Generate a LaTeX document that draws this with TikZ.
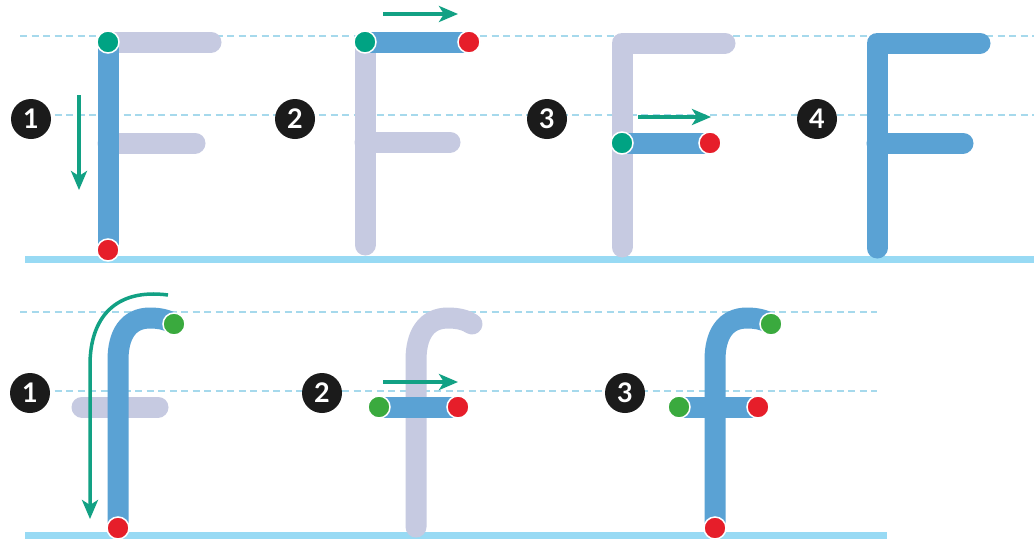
\documentclass[tikz,border=0pt]{standalone}
\usepackage{fontspec}
\setmainfont{Lato}
\usetikzlibrary{arrows.meta}
\definecolor{inkblue}{HTML}{5AA2D4}
\definecolor{ghost}{HTML}{C6CAE1}
\definecolor{guide}{HTML}{A6D9EC}
\definecolor{baseblue}{HTML}{98DAF4}
\definecolor{arrowteal}{HTML}{12A184}
\definecolor{startteal}{HTML}{00A383}
\definecolor{startgreen}{HTML}{3AAA3E}
\definecolor{endred}{HTML}{E61E2A}
\definecolor{numblack}{HTML}{1B1B1B}
\tikzset{
  guideline/.style={guide, line width=1.5pt, dash pattern=on 7pt off 4.5pt},
  baseline/.style={baseblue, line width=7pt},
  ghoststroke/.style={ghost, line width=21pt, line cap=round, line join=round},
  inkstroke/.style={inkblue, line width=21pt, line cap=round, line join=round},
  dotbase/.style={circle, draw=white, line width=1.5pt, minimum size=22pt, inner sep=0pt},
  startdotA/.style={dotbase, fill=startteal},
  startdotB/.style={dotbase, fill=startgreen},
  enddot/.style={dotbase, fill=endred},
  stepnum/.style={circle, fill=numblack, minimum size=40pt, inner sep=0pt, text=white,
    font=\fontsize{27}{27}\selectfont\bfseries},
  dirarrow/.style={arrowteal, line width=3.5pt, -{Stealth[length=19pt,width=16pt,inset=5pt]}}
}
\begin{document}
\begin{tikzpicture}[x=1pt,y=-1pt]
\useasboundingbox[fill=white] (0,0) rectangle (1034,542);
% ---------- guide lines ----------
\coordinate (tgl1) at (20,36);   \coordinate (tgr1) at (1034,36);
\coordinate (tgl2) at (20,115);  \coordinate (tgr2) at (1034,115);
\coordinate (tbl) at (25,259);   \coordinate (tbr) at (1034,259);
\coordinate (bgl1) at (20,312);  \coordinate (bgr1) at (877,312);
\coordinate (bgl2) at (20,391);  \coordinate (bgr2) at (877,391);
\coordinate (bbl) at (25,535);   \coordinate (bbr) at (887,535);
\draw[guideline] (tgl1) -- (tgr1);
\draw[guideline] (tgl2) -- (tgr2);
\draw[guideline] (bgl1) -- (bgr1);
\draw[guideline] (bgl2) -- (bgr2);
\draw[baseline] (tbl) -- (tbr);
\draw[baseline] (bbl) -- (bbr);

% ---------- F step 1 ----------
\draw[ghoststroke] (108,42) -- (211,42);
\draw[ghoststroke] (108,143) -- (195,143);
\draw[inkstroke] (108,42) -- (108,250);
\node[startdotA] (f1s) at (108,42) {};
\node[enddot] (f1e) at (108,250) {};
\coordinate (a1s) at (79,95); \coordinate (a1e) at (79,190);
\draw[dirarrow] (a1s) -- (a1e);
\node[stepnum] (n1) at (31,119) {1};

% ---------- F step 2 ----------
\draw[ghoststroke] (365,42) -- (365,245);
\draw[ghoststroke] (365,142) -- (450,142);
\draw[inkstroke, line cap=butt] (365,42) -- (469,42);
\node[startdotA] (f2s) at (365,42) {};
\node[enddot] (f2e) at (469,42) {};
\coordinate (a2s) at (383,14); \coordinate (a2e) at (458,14);
\draw[dirarrow] (a2s) -- (a2e);
\node[stepnum] (n2) at (295,119) {2};

% ---------- F step 3 ----------
\draw[ghoststroke] (725,43) -- (622,43) -- (622,247);
\draw[inkstroke, line cap=butt] (622,143) -- (710,143);
\node[startdotA] (f3s) at (622,143) {};
\node[enddot] (f3e) at (710,143) {};
\coordinate (a3s) at (638,117); \coordinate (a3e) at (711,117);
\draw[dirarrow] (a3s) -- (a3e);
\node[stepnum] (n3) at (547,119) {3};

% ---------- F step 4 ----------
\draw[inkstroke] (980,43) -- (877,43) -- (877,248);
\draw[inkstroke] (877,143) -- (963,143);
\node[stepnum] (n4) at (817,119) {4};

% ---------- f step 1 ----------
\draw[ghoststroke] (82,407) -- (158,407);
\draw[inkstroke, line cap=butt] (118,528) -- (118,360)
  .. controls (118,335) and (128,318) .. (150,318)
  .. controls (160,318) and (168,320) .. (174,324);
\node[startdotB] (g1s) at (174,324) {};
\node[enddot] (g1e) at (118,528) {};
\coordinate (b1s) at (168,295); \coordinate (b1e) at (90,519);
\draw[dirarrow] (b1s) .. controls (115,288) and (90,318) .. (90,365) -- (b1e);
\node[stepnum] (m1) at (30,393) {1};

% ---------- f step 2 ----------
\draw[ghoststroke] (416,527) -- (416,360)
  .. controls (416,335) and (426,318) .. (448,318)
  .. controls (458,318) and (466,320) .. (472,324);
\draw[inkstroke, line cap=butt] (379,407) -- (458,407);
\node[startdotB] (g2s) at (379,407) {};
\node[enddot] (g2e) at (458,407) {};
\coordinate (b2s) at (383,382); \coordinate (b2e) at (458,382);
\draw[dirarrow] (b2s) -- (b2e);
\node[stepnum] (m2) at (322,393) {2};

% ---------- f step 3 ----------
\draw[inkstroke, line cap=butt] (715,528) -- (715,360)
  .. controls (715,335) and (725,318) .. (747,318)
  .. controls (757,318) and (765,320) .. (771,324);
\draw[inkstroke, line cap=butt] (679,407) -- (758,407);
\node[startdotB] (g3s) at (771,324) {};
\node[startdotB] (g3c) at (679,407) {};
\node[enddot] (g3d) at (758,407) {};
\node[enddot] (g3e) at (715,528) {};
\node[stepnum] (m3) at (625,393) {3};
\end{tikzpicture}
\end{document}
